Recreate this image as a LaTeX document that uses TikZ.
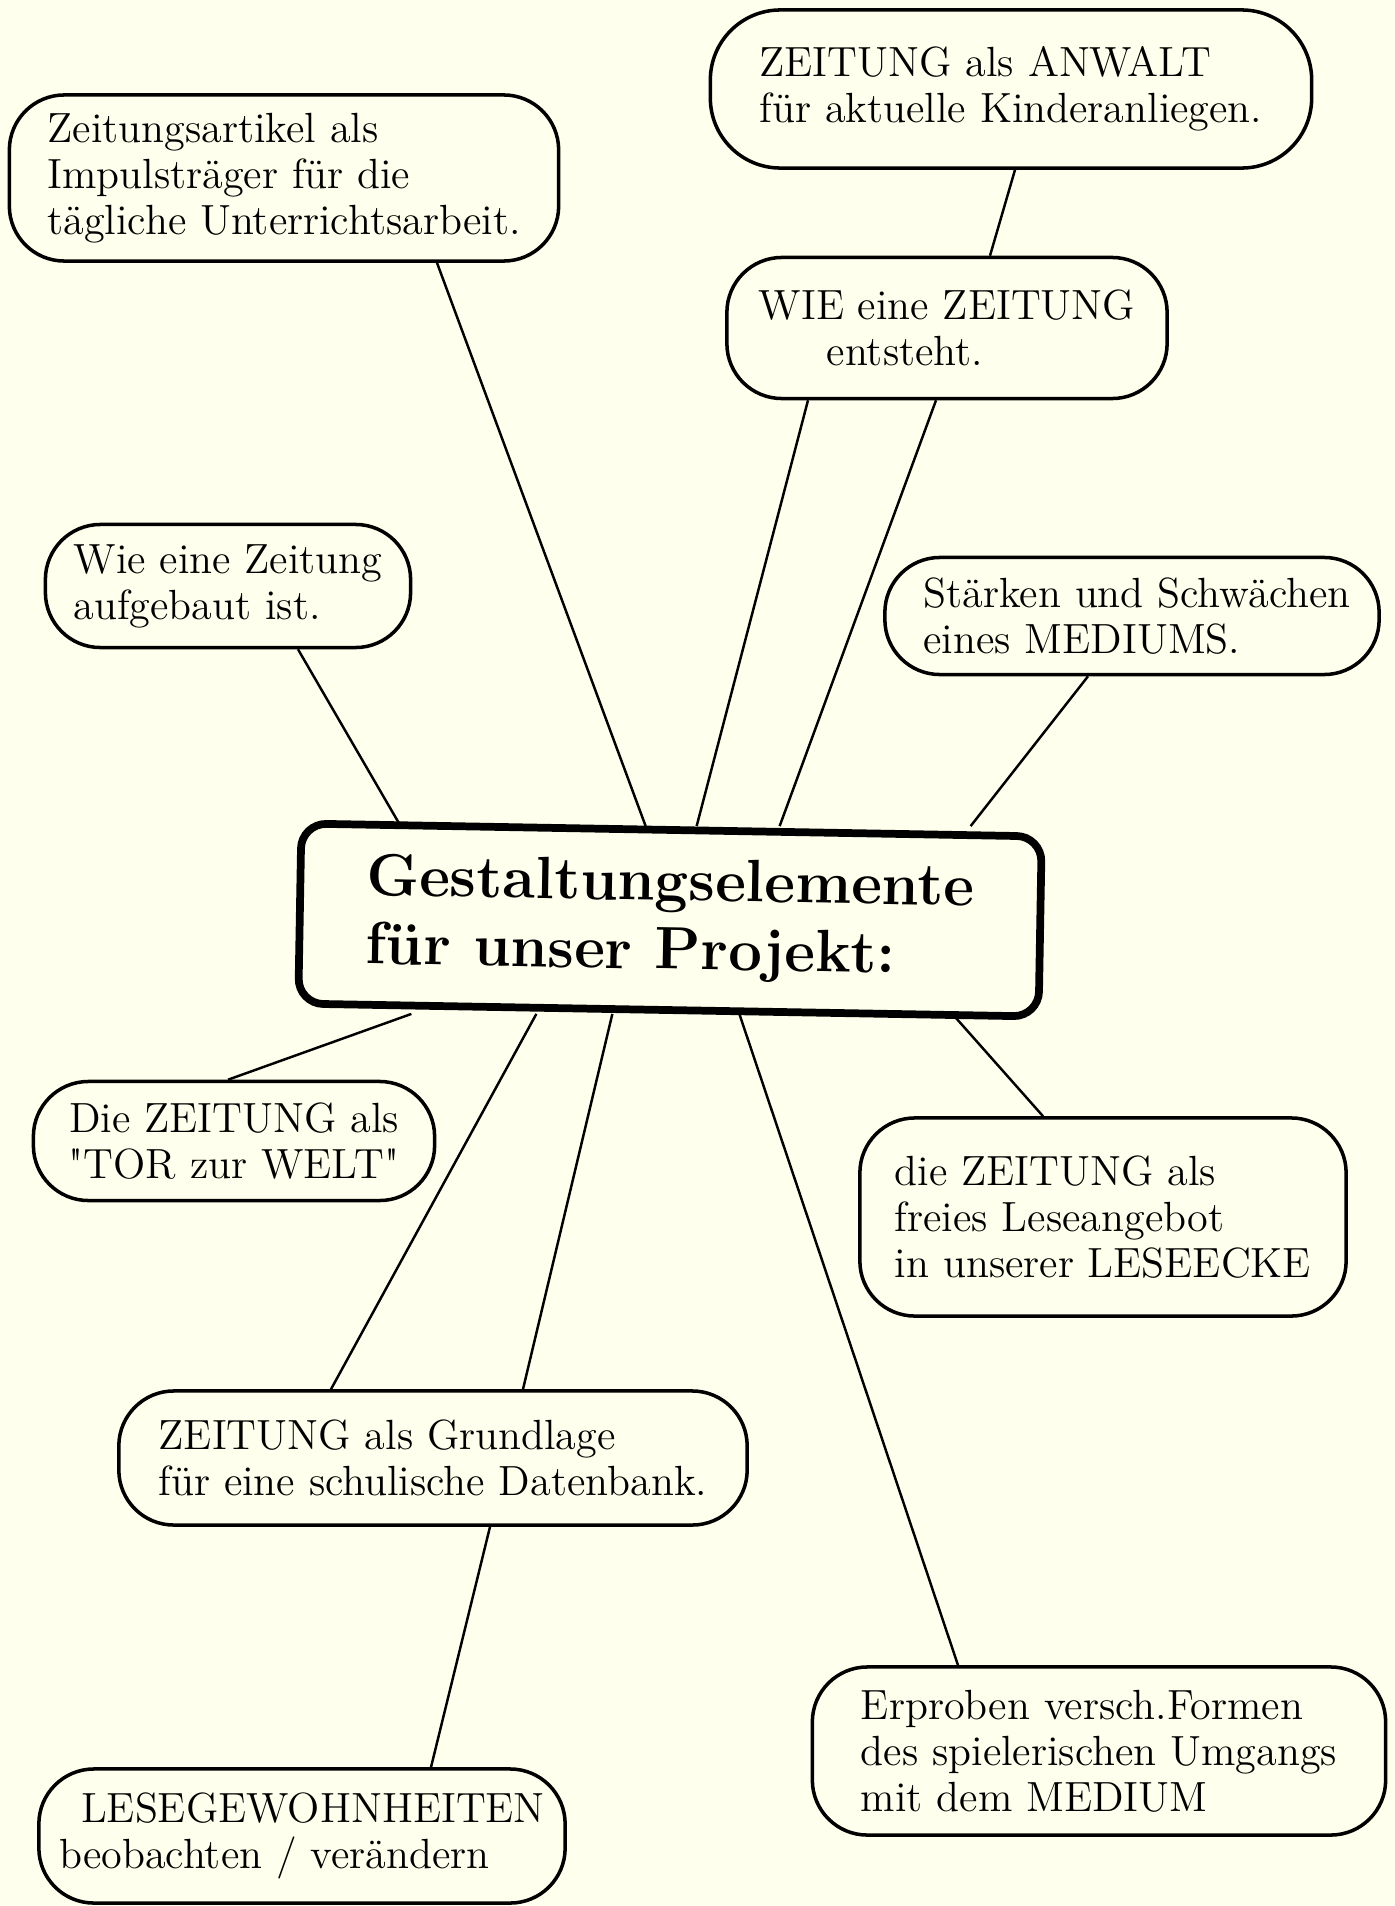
\documentclass[tikz,border=0pt]{standalone}
\usetikzlibrary{calc}
\definecolor{paper}{RGB}{255,255,238}
\begin{document}
\begin{tikzpicture}[x=0.01cm,y=-0.01cm,
    blase/.style={draw,line width=1pt,rounded corners=0.55cm,align=left,
      inner sep=0pt,font=\fontsize{12}{13.1}\selectfont},
    mitte/.style={draw,line width=2.2pt,rounded corners=0.25cm,align=left,
      inner sep=0pt,font=\fontsize{17}{19.5}\selectfont\bfseries},
    ast/.style={line width=0.7pt}]
    \fill[paper] (0,0) rectangle (1395,1906);
    \useasboundingbox (0,0) rectangle (1395,1906);

    \node[mitte,rotate=-1,minimum width=7.4cm,minimum height=1.8cm] (titel) at (670,920)
      {Gestaltungselemente\\für unser Projekt:};

    \node[blase,minimum width=5.49cm,minimum height=1.66cm] (zart) at (284,178)
      {Zeitungsartikel als\\Impulsträger für die\\tägliche Unterrichtsarbeit.};
    \node[blase,rounded corners=0.7cm,minimum width=6.01cm,minimum height=1.58cm] (anwalt) at (1011,89)
      {ZEITUNG als ANWALT\\für aktuelle Kinderanliegen.};
    \node[blase,minimum width=4.4cm,minimum height=1.41cm] (entsteht) at (947,328)
      {WIE eine ZEITUNG\\\hspace*{0.68cm}entsteht.};
    \node[blase,minimum width=3.65cm,minimum height=1.23cm] (aufbau) at (228,586)
      {Wie eine Zeitung\\aufgebaut ist.};
    \node[blase,minimum width=4.94cm,minimum height=1.17cm] (staerken) at (1132,616)
      {\hspace*{0.1cm}Stärken und Schwächen\\\hspace*{0.1cm}eines MEDIUMS.};
    \node[blase,align=center,minimum width=4.01cm,minimum height=1.19cm] (tor) at (234,1141)
      {Die ZEITUNG als\\\textquotedbl TOR zur WELT\textquotedbl};
    \node[blase,minimum width=4.86cm,minimum height=1.98cm] (lesecke) at (1103,1217)
      {die ZEITUNG als\\freies Leseangebot\\in unserer LESEECKE};
    \node[blase,minimum width=6.28cm,minimum height=1.34cm] (datenbank) at (433,1458)
      {ZEITUNG als Grundlage\\für eine schulische Datenbank.};
    \node[blase,minimum width=5.73cm,minimum height=1.68cm] (erproben) at (1099,1751)
      {Erproben versch.Formen\\des spielerischen Umgangs\\mit dem MEDIUM};
    \node[blase,minimum width=5.26cm,minimum height=1.34cm] (gewohnheit) at (302,1836)
      {\hspace*{0.22cm}LESEGEWOHNHEITEN\\beobachten / verändern};

    % Aeste zur Mitte
    \draw[ast] ($(zart.south)+(153,0)$) -- ($(titel.north)+(-26,0)$);
    \draw[ast] ($(anwalt.south)+(4,0)$) -- ($(entsteht.north)+(43,0)$);
    \draw[ast] ($(entsteht.south)+(-139,0)$) -- ($(titel.north)+(25,0)$);
    \draw[ast] ($(entsteht.south)+(-11,0)$) -- ($(titel.north)+(108,0)$);
    \draw[ast] ($(aufbau.south)+(70,0)$) -- ($(titel.north)+(-271,0)$);
    \draw[ast] ($(staerken.south)+(-44,0)$) -- ($(titel.north)+(299,0)$);
    \draw[ast] ($(titel.south)+(-257,0)$) -- ($(tor.north)+(-6,0)$);
    \draw[ast] ($(titel.south)+(-132,0)$) -- ($(datenbank.north)+(-102,0)$);
    \draw[ast] ($(titel.south)+(-56,0)$) -- ($(datenbank.north)+(90,0)$);
    \draw[ast] ($(titel.south)+(71,0)$) -- ($(erproben.north)+(-141,0)$);
    \draw[ast] ($(titel.south)+(284,0)$) -- ($(lesecke.north)+(-60,0)$);
    \draw[ast] ($(datenbank.south)+(57,0)$) -- ($(gewohnheit.north)+(129,0)$);
  \end{tikzpicture}
\end{document}
